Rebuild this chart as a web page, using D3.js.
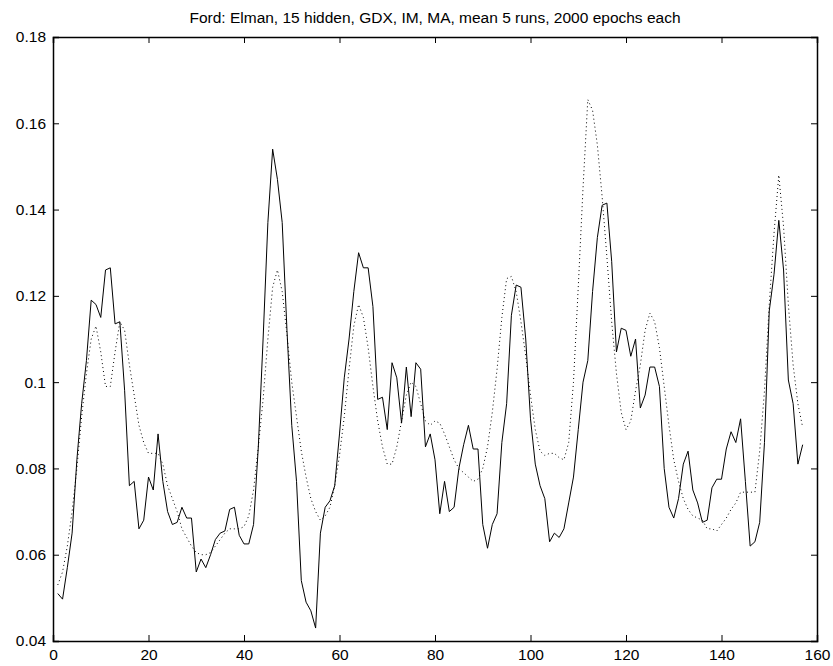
<!DOCTYPE html>
<html>
<head>
<meta charset="utf-8">
<script src="https://cdn.jsdelivr.net/npm/d3@7"></script>
<style>
  html, body { margin: 0; padding: 0; background: #fff; }
  #chart { width: 833px; height: 666px; }
  text { font-family: "Liberation Sans", Arial, Helvetica, sans-serif; fill: #000; }
</style>
</head>
<body>
<div id="chart"></div>
<script>
const titleText = "Ford: Elman, 15 hidden, GDX, IM, MA, mean 5 runs, 2000 epochs each";
const xTicks = [0, 20, 40, 60, 80, 100, 120, 140, 160];
const yTicks = [0.04, 0.06, 0.08, 0.1, 0.12, 0.14, 0.16, 0.18];

// solid line, steps 1..157
const actual = [
  0.051, 0.0497, 0.057, 0.065, 0.082, 0.095, 0.105, 0.119, 0.118, 0.115,
  0.126, 0.1265, 0.1135, 0.114, 0.098, 0.076, 0.077, 0.066, 0.068, 0.078,
  0.075, 0.088, 0.077, 0.070, 0.067, 0.0675, 0.071, 0.0685, 0.0685, 0.056,
  0.059, 0.057, 0.060, 0.0635, 0.065, 0.0655, 0.0705, 0.071, 0.0645, 0.0625,
  0.0625, 0.067, 0.085, 0.110, 0.137, 0.154, 0.147, 0.137, 0.112, 0.090,
  0.077, 0.054, 0.049, 0.047, 0.043, 0.065, 0.071, 0.0725, 0.076, 0.088,
  0.101, 0.110, 0.121, 0.130, 0.1265, 0.1265, 0.1175, 0.096, 0.0965, 0.089,
  0.1045, 0.101, 0.0905, 0.1035, 0.092, 0.1045, 0.103, 0.085, 0.088, 0.082,
  0.0695, 0.077, 0.070, 0.071, 0.080, 0.0855, 0.090, 0.0845, 0.0845, 0.067,
  0.0615, 0.067, 0.0695, 0.086, 0.095, 0.1155, 0.1225, 0.122, 0.110, 0.0915,
  0.081, 0.076, 0.073, 0.063, 0.065, 0.064, 0.066, 0.072, 0.078, 0.089,
  0.100, 0.105, 0.121, 0.1335, 0.141, 0.1415, 0.128, 0.107, 0.1125, 0.112,
  0.106, 0.110, 0.094, 0.097, 0.1035, 0.1035, 0.099, 0.080, 0.071, 0.0685,
  0.073, 0.081, 0.084, 0.075, 0.072, 0.0675, 0.068, 0.0755, 0.0775, 0.0775,
  0.0845, 0.0885, 0.086, 0.0915, 0.077, 0.062, 0.063, 0.0675, 0.086, 0.1165,
  0.125, 0.1375, 0.126, 0.1005, 0.095, 0.081, 0.0855
];

// dotted line, steps 1..157
const predicted = [
  0.053, 0.056, 0.062, 0.070, 0.080, 0.092, 0.102, 0.110, 0.113, 0.107,
  0.099, 0.099, 0.107, 0.114, 0.112, 0.104, 0.097, 0.090, 0.086, 0.0835,
  0.0835, 0.0835, 0.081, 0.076, 0.073, 0.070, 0.066, 0.064, 0.062, 0.0605,
  0.060, 0.060, 0.0605, 0.062, 0.0635, 0.065, 0.066, 0.066, 0.066, 0.0665,
  0.069, 0.075, 0.085, 0.096, 0.110, 0.122, 0.126, 0.121, 0.111, 0.100,
  0.092, 0.084, 0.078, 0.073, 0.070, 0.068, 0.069, 0.071, 0.076, 0.083,
  0.092, 0.103, 0.113, 0.118, 0.115, 0.108, 0.099, 0.091, 0.085, 0.081,
  0.081, 0.085, 0.091, 0.097, 0.100, 0.099, 0.095, 0.091, 0.090, 0.091,
  0.0905, 0.088, 0.085, 0.082, 0.080, 0.079, 0.078, 0.077, 0.0775, 0.080,
  0.085, 0.093, 0.103, 0.115, 0.124, 0.1245, 0.121, 0.114, 0.106, 0.097,
  0.089, 0.084, 0.083, 0.0835, 0.0835, 0.0825, 0.082, 0.086, 0.100, 0.122,
  0.145, 0.1655, 0.163, 0.155, 0.143, 0.129, 0.114, 0.102, 0.093, 0.089,
  0.091, 0.098, 0.104, 0.112, 0.116, 0.114, 0.108, 0.099, 0.090, 0.082,
  0.077, 0.073, 0.0705, 0.069, 0.0685, 0.068, 0.066, 0.066, 0.0655, 0.067,
  0.0685, 0.0705, 0.072, 0.0745, 0.0745, 0.0745, 0.0745, 0.084, 0.098, 0.118,
  0.1345, 0.148, 0.136, 0.118, 0.104, 0.095, 0.0895
];

const W = 833, H = 666;
const margin = {top: 37, right: 16, bottom: 25, left: 53};
const width = W - margin.left - margin.right;
const height = H - margin.top - margin.bottom;

const svg = d3.select("#chart")
              .append("svg")
              .attr("width", W)
              .attr("height", H);

const g = svg.append("g")
             .attr("transform", "translate(" + margin.left + "," + margin.top + ")");

const x = d3.scaleLinear().domain([0, 160]).range([0, width]);
const y = d3.scaleLinear().domain([0.04, 0.18]).range([height, 0]);

const tickLen = 6;
const fmt = function (d) { return String(+d.toFixed(2)); };

// axes: ticks inside on all four sides, MATLAB style
g.append("g")
 .attr("transform", "translate(0," + height + ")")
 .call(d3.axisBottom(x).tickValues(xTicks).tickSize(-tickLen).tickPadding(tickLen + 2).tickFormat(fmt));
g.append("g")
 .call(d3.axisTop(x).tickValues(xTicks).tickSize(-tickLen).tickFormat(""));
g.append("g")
 .call(d3.axisLeft(y).tickValues(yTicks).tickSize(-tickLen).tickPadding(tickLen + 1).tickFormat(fmt));
g.append("g")
 .attr("transform", "translate(" + width + ",0)")
 .call(d3.axisRight(y).tickValues(yTicks).tickSize(-tickLen).tickFormat(""));

g.selectAll(".domain").attr("stroke", "#000").attr("stroke-width", 1.5);
g.selectAll(".tick line").attr("stroke", "#000").attr("stroke-width", 1);
g.selectAll(".tick text").style("font-size", "15.5px").attr("fill", "#000");

const line = d3.line()
               .x(function (d, i) { return x(i + 1); })
               .y(function (d) { return y(d); });

g.append("path")
 .datum(predicted)
 .attr("d", line)
 .attr("fill", "none")
 .attr("stroke", "#000")
 .attr("stroke-width", 1)
 .attr("stroke-dasharray", "1,3");

g.append("path")
 .datum(actual)
 .attr("d", line)
 .attr("fill", "none")
 .attr("stroke", "#000")
 .attr("stroke-width", 1);

svg.append("text")
   .attr("x", margin.left + width / 2)
   .attr("y", 23)
   .attr("text-anchor", "middle")
   .style("font-size", "15.5px")
   .text(titleText);
</script>
</body>
</html>
